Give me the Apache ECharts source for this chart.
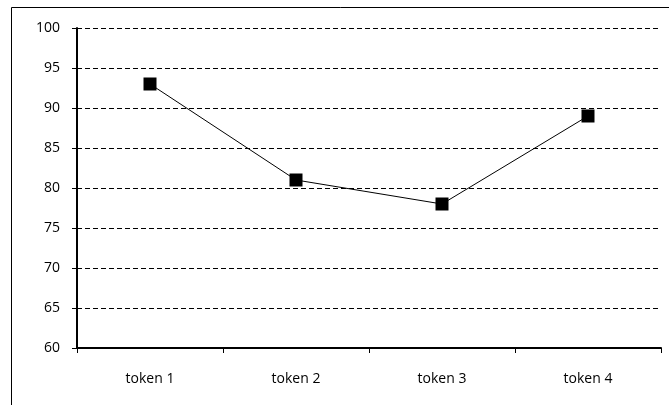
<!DOCTYPE html>
<html>
<head>
<meta charset="utf-8">
<script src="https://cdn.jsdelivr.net/npm/echarts@6/dist/echarts.min.js"></script>
<style>
  html, body { margin: 0; padding: 0; background: #fff; }
  #chart { width: 669px; height: 405px; }
</style>
</head>
<body>
<div id="chart"></div>
<script>
// Categories along the x axis and the score for each
const categories = ['token 1', 'token 2', 'token 3', 'token 4'];
const scores = [93, 81, 78, 89];
// Value axis range and step
const yMin = 60;
const yMax = 100;
const yStep = 5;

const chart = echarts.init(document.getElementById('chart'));
const font = '"Open Sans", Lato, sans-serif';

chart.setOption({
  animation: false,
  backgroundColor: '#fff',
  graphic: [{
    type: 'rect',
    shape: { x: 11.5, y: 7.5, width: 700, height: 500 },
    style: { fill: 'none', stroke: '#000', lineWidth: 1 },
    silent: true
  }],
  grid: { left: 77, right: 8, top: 28, bottom: 57 },
  xAxis: {
    type: 'category',
    data: categories,
    boundaryGap: true,
    axisLine: { lineStyle: { color: '#000', width: 2 } },
    axisTick: { show: true, length: 5, lineStyle: { color: '#000', width: 1 } },
    axisLabel: { color: '#000', fontFamily: font, fontSize: 14, margin: 24 },
    splitLine: { show: false }
  },
  yAxis: {
    type: 'value',
    min: yMin,
    max: yMax,
    interval: yStep,
    axisLine: { show: true, lineStyle: { color: '#000', width: 2 } },
    axisTick: { show: true, length: 5, lineStyle: { color: '#000', width: 1 } },
    axisLabel: { color: '#000', fontFamily: font, fontSize: 14, margin: 17 },
    splitLine: { show: true, lineStyle: { color: '#000', width: 1, type: [5, 3] } }
  },
  series: [{
    type: 'line',
    data: scores,
    symbol: 'rect',
    symbolSize: 13,
    itemStyle: { color: '#000' },
    lineStyle: { color: '#000', width: 1 }
  }]
});
</script>
</body>
</html>
